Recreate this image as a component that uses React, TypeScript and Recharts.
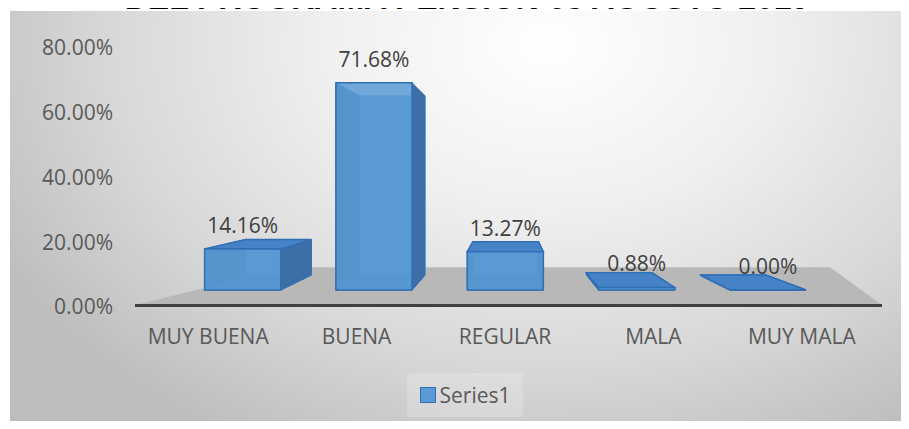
import React from 'react';
import { BarChart, Bar, XAxis, YAxis, Legend, LabelList, ReferenceArea } from 'recharts';

const categories = ['MUY BUENA', 'BUENA', 'REGULAR', 'MALA', 'MUY MALA'];
const series1 = [14.16, 71.68, 13.27, 0.88, 0.0];
const yTicks = [0, 20, 40, 60, 80];

const data = categories.map((name, i) => ({ name, value: series1[i] }));

const FONT = '"Open Sans", Calibri, sans-serif';

// fake excel 3d perspective: front plane of the columns sits a bit behind the axis
const VP_X = 508;
const FRONT_SX = 0.885;
const FRONT_SY = 0.893;
const FLOOR_Y = 290;
const DEPTH = 0.865;
const VP_Y = 179;

type Pt = { x: number; y: number };

const toFront = (x: number, y: number, base: number): Pt => ({
    x: VP_X + (x - VP_X) * FRONT_SX,
    y: FLOOR_Y - (base - y) * FRONT_SY,
});
const toBack = (p: Pt): Pt => ({ x: VP_X + (p.x - VP_X) * DEPTH, y: VP_Y + (p.y - VP_Y) * DEPTH });
const pts = (list: Pt[]) => list.map(p => `${p.x},${p.y}`).join(' ');

const Column3D = (props: any) => {
    const { x, y, width, height } = props;
    const base = y + height;
    const ftl = toFront(x, y, base);
    const ftr = toFront(x + width, y, base);
    const fbl = toFront(x, base, base);
    const fbr = toFront(x + width, base, base);
    const btl = toBack(ftl);
    const btr = toBack(ftr);
    const bbl = toBack(fbl);
    const bbr = toBack(fbr);
    const edge = '#2f6fb5';
    return (
        <g>
            <polygon points={pts([btl, btr, bbr, bbl])} fill="#4f8ccc" stroke="#6fa8e0" strokeWidth={1} />
            <polygon points={pts([fbl, fbr, bbr, bbl])} fill="#3f78b8" stroke={edge} strokeWidth={1} />
            <polygon points={pts([ftl, btl, bbl, fbl])} fill="#3d6fa6" stroke={edge} strokeWidth={1} />
            <polygon points={pts([ftr, btr, bbr, fbr])} fill="#3d6fa6" stroke={edge} strokeWidth={1} />
            {btl.y < ftl.y && (
                <polygon points={pts([ftl, ftr, btr, btl])} fill="#4682c6" stroke={edge} strokeWidth={1.5} />
            )}
            <polygon
                points={pts([ftl, ftr, fbr, fbl])}
                fill="#5b9bd5"
                fillOpacity={0.85}
                stroke={edge}
                strokeWidth={1.5}
            />
        </g>
    );
};

const renderLabel = (props: any) => {
    const vb = props.viewBox || props;
    const { x, y, width, height } = vb;
    const base = y + height;
    const p = toFront(x + width / 2, y, base);
    return (
        <text x={p.x} y={p.y - 16} textAnchor="middle" fill="#404040" fontSize={21} fontFamily={FONT}>
            {Number(props.value).toFixed(2)}%
        </text>
    );
};

const Floor = (props: any) => {
    const { x, y, width, height } = props;
    const bottom = y + height;
    const floorPts = [
        { x: x + 1, y: bottom - 2 },
        { x: x + 156, y: y - 1 },
        { x: x + width - 46, y: y - 1 },
        { x: x + width + 6, y: bottom - 2 },
    ];
    return (
        <g>
            <polygon points={pts(floorPts)} fill="#b8b8b8" />
            <line x1={x + 1} x2={x + width + 6} y1={bottom - 1.5} y2={bottom - 1.5} stroke="#404040" strokeWidth={3} />
        </g>
    );
};

const LegendBox = () => (
    <div
        style={{
            display: 'flex',
            alignItems: 'center',
            justifyContent: 'center',
            width: '100%',
            height: '100%',
            background: 'rgba(255,255,255,0.2)',
            fontFamily: FONT,
            fontSize: 21,
            color: '#595959',
        }}
    >
        <span
            style={{
                display: 'inline-block',
                width: 14,
                height: 14,
                background: '#5b9bd5',
                border: '1px solid #2f6fb5',
                marginRight: 4,
            }}
        />
        Series1
    </div>
);

export default function App() {
    return (
        <div style={{ position: 'relative', width: 909, height: 429, margin: -8, background: '#fff', overflow: 'hidden' }}>
            <div
                style={{
                    position: 'absolute',
                    left: 10,
                    top: 11,
                    width: 899,
                    height: 418,
                    background:
                        'radial-gradient(ellipse 70% 110% at 60% 8%, #ffffff 0%, #f0f0f0 35%, #d8d8d8 70%, #bdbdbd 100%)',
                }}
            />
            <svg width={909} height={11} style={{ position: 'absolute', left: 0, top: 0, display: 'block' }}>
                <text
                    x={467}
                    y={9}
                    textAnchor="middle"
                    fontFamily='"Liberation Sans", Arial, sans-serif'
                    fontWeight="bold"
                    fontSize={32}
                    fill="#000"
                >
                    DEL PROGRAMA PENSION 65 AGOSTO 2019
                </text>
            </svg>
            <div style={{ position: 'absolute', left: 0, top: 0 }}>
                <BarChart
                    width={909}
                    height={429}
                    data={data}
                    margin={{ top: 48, right: 33, bottom: 92, left: 0 }}
                    barCategoryGap="21%"
                >
                    <ReferenceArea y1={0} y2={12} ifOverflow="visible" shape={<Floor />} />
                    <XAxis
                        dataKey="name"
                        height={30}
                        axisLine={false}
                        tickLine={false}
                        tickSize={6}
                        tickMargin={16}
                        interval={0}
                        tick={{ fill: '#595959', fontSize: 21, fontFamily: FONT }}
                    />
                    <YAxis
                        domain={[0, 80]}
                        ticks={yTicks}
                        width={134}
                        axisLine={false}
                        tickLine={false}
                        tickSize={6}
                        tickMargin={15}
                        tickFormatter={(v: number) => `${v.toFixed(2)}%`}
                        tick={{ fill: '#595959', fontSize: 21, fontFamily: FONT }}
                    />
                    <Legend
                        layout="horizontal"
                        verticalAlign="middle"
                        content={<LegendBox />}
                        wrapperStyle={{ left: 407, top: 373, bottom: 'auto', width: 116, height: 44 }}
                    />
                    <Bar dataKey="value" name="Series1" shape={<Column3D />} isAnimationActive={false}>
                        <LabelList dataKey="value" content={renderLabel} />
                    </Bar>
                </BarChart>
            </div>
        </div>
    );
}
